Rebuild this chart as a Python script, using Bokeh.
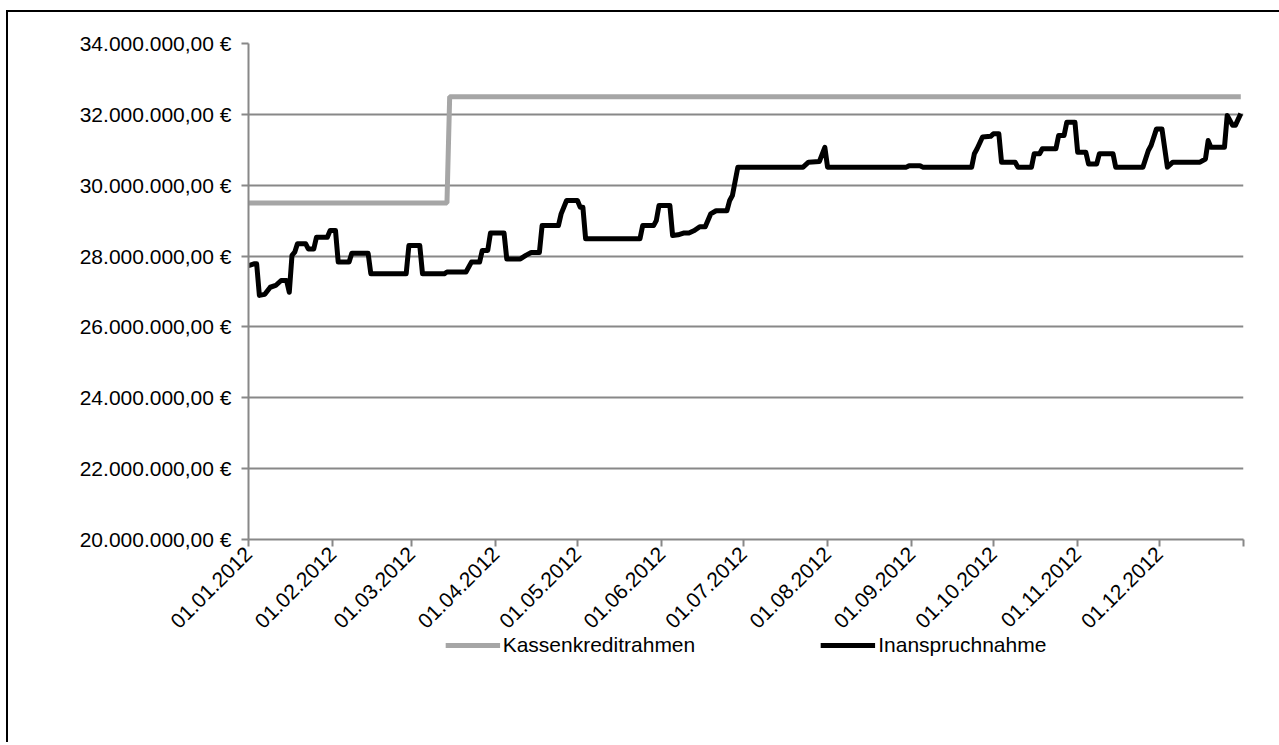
import numpy as np
from bokeh.plotting import figure
from bokeh.layouts import column
from bokeh.models import ColumnDataSource, FixedTicker, Legend, LegendItem, Range1d
from bokeh.embed import file_html
from bokeh.resources import INLINE

# ---- data (day offset from 01.01.2012, value in EUR) ----
rahmen_days = [0, 73, 74, 365]
rahmen_values = [29500000, 29500000, 32500000, 32500000]

use_days = [0, 2, 3, 4, 6, 8, 10, 12, 14, 15, 16, 17, 18, 21, 22, 24, 25, 29, 30, 32,
            33, 37, 38, 44, 45, 58, 59, 63, 64, 72, 73, 80, 82, 85, 86, 88, 89, 94, 95, 100,
            102, 104, 107, 108, 114, 115, 117, 121, 122, 123, 124, 144, 145, 149, 150, 151, 155, 156, 158, 160,
            162, 164, 166, 168, 170, 172, 176, 177, 178, 180, 204, 206, 210, 212, 213, 242, 243, 247, 248, 266,
            267, 268, 270, 273, 274, 276, 277, 282, 283, 288, 289, 291, 292, 297, 298, 300, 301, 304, 305, 308,
            309, 312, 313, 318, 319, 329, 331, 332, 334, 336, 338, 340, 350, 352, 353, 354, 359, 360, 362, 363,
            365]
use_values = [27730000, 27780000, 27780000, 26890000, 26920000, 27120000, 27170000, 27310000, 27310000, 26980000,
              28020000, 28110000, 28350000, 28350000, 28200000, 28200000, 28530000, 28530000, 28720000, 28720000,
              27830000, 27830000, 28080000, 28080000, 27500000, 27500000, 28300000, 28300000, 27500000, 27500000,
              27550000, 27550000, 27830000, 27830000, 28160000, 28160000, 28650000, 28650000, 27920000, 27920000,
              28020000, 28100000, 28100000, 28860000, 28860000, 29190000, 29570000, 29570000, 29380000, 29380000,
              28490000, 28490000, 28860000, 28860000, 29000000, 29430000, 29430000, 28580000, 28600000, 28650000,
              28650000, 28720000, 28830000, 28830000, 29190000, 29280000, 29280000, 29570000, 29710000, 30510000,
              30510000, 30650000, 30670000, 31070000, 30510000, 30510000, 30550000, 30550000, 30510000, 30510000,
              30890000, 31030000, 31360000, 31380000, 31450000, 31450000, 30650000, 30650000, 30510000, 30510000,
              30890000, 30890000, 31030000, 31030000, 31400000, 31400000, 31780000, 31780000, 30930000, 30930000,
              30600000, 30600000, 30890000, 30890000, 30510000, 30510000, 30980000, 31120000, 31590000, 31590000,
              30510000, 30650000, 30650000, 30740000, 31260000, 31070000, 31070000, 31970000, 31690000, 31690000,
              32020000]

month_days = [0, 31, 60, 91, 121, 152, 182, 213, 244, 274, 305, 335, 366]
month_labels = ["01.01.2012", "01.02.2012", "01.03.2012", "01.04.2012", "01.05.2012", "01.06.2012",
                "01.07.2012", "01.08.2012", "01.09.2012", "01.10.2012", "01.11.2012", "01.12.2012", ""]

y_ticks = [20000000, 22000000, 24000000, 26000000, 28000000, 30000000, 32000000, 34000000]
y_labels = ["20.000.000,00 €", "22.000.000,00 €", "24.000.000,00 €", "26.000.000,00 €",
            "28.000.000,00 €", "30.000.000,00 €", "32.000.000,00 €", "34.000.000,00 €"]

series_names = ["Kassenkreditrahmen", "Inanspruchnahme"]
series_colors = ["#A6A6A6", "#000000"]

FONT = "Liberation Sans"
FS = "21px"
GRID = "#888888"
LW = 5

# ---- main chart ----
p = figure(width=1271, height=637, output_backend="svg", toolbar_location=None,
           x_range=Range1d(0, 366), y_range=Range1d(20000000, 34000000),
           min_border_left=240, min_border_right=36, min_border_top=31, min_border_bottom=110)
p.outline_line_color = None
p.background_fill_color = "white"
p.border_fill_color = "white"

src_r = ColumnDataSource(dict(x=rahmen_days, y=rahmen_values))
src_u = ColumnDataSource(dict(x=use_days, y=use_values))
p.line("x", "y", source=src_r, line_color=series_colors[0], line_width=LW)
p.line("x", "y", source=src_u, line_color=series_colors[1], line_width=LW, line_join="round")

p.xgrid.grid_line_color = None
p.ygrid.grid_line_color = GRID
p.ygrid.grid_line_width = 2
p.ygrid.ticker = FixedTicker(ticks=y_ticks)

p.yaxis.ticker = FixedTicker(ticks=y_ticks)
p.yaxis.major_label_overrides = {t: l for t, l in zip(y_ticks, y_labels)}
p.xaxis.ticker = FixedTicker(ticks=month_days)
p.xaxis.major_label_overrides = {t: l for t, l in zip(month_days, month_labels)}
p.xaxis.major_label_orientation = np.pi / 4

for ax in (p.xaxis[0], p.yaxis[0]):
    ax.axis_line_color = GRID
    ax.axis_line_width = 2
    ax.major_tick_line_color = GRID
    ax.major_tick_line_width = 2
    ax.major_tick_in = 0
    ax.major_tick_out = 7
    ax.minor_tick_line_color = None
    ax.major_label_text_font = FONT
    ax.major_label_text_font_size = FS
    ax.major_label_text_color = "black"
p.yaxis.major_label_standoff = 10
p.xaxis.major_label_standoff = 4

# ---- legend strip (transparent, overlapping the bottom of the chart slightly) ----
# the same series are drawn here outside the visible ranges, only their legend entries show
lf = figure(width=1271, height=112, output_backend="svg", toolbar_location=None,
            x_axis_location=None, y_axis_location=None,
            x_range=Range1d(-3, -2), y_range=Range1d(-3, -2),
            min_border_left=203, min_border_right=0, min_border_top=0, min_border_bottom=0)
lf.grid.visible = False
lf.outline_line_color = None
lf.background_fill_alpha = 0
lf.border_fill_alpha = 0
lr1 = lf.line("x", "y", source=src_r, line_color=series_colors[0], line_width=LW)
lr2 = lf.line("x", "y", source=src_u, line_color=series_colors[1], line_width=LW)
legend = Legend(items=[LegendItem(label=series_names[0], renderers=[lr1]),
                       LegendItem(label=series_names[1], renderers=[lr2])],
                orientation="horizontal", location="top_center",
                glyph_width=55, glyph_height=20, label_standoff=3, spacing=125,
                label_text_font=FONT, label_text_font_size=FS, label_text_color="black",
                border_line_color=None, background_fill_alpha=0,
                padding=0, margin=3)
lf.add_layout(legend, "center")
lf.styles = {"margin-top": "-19px"}

layout = column(p, lf, spacing=0)
layout.styles = {"border-left": "2px solid black", "border-top": "2px solid black",
                 "margin-left": "6px", "margin-top": "10px"}

open("out.html", "w").write(file_html(layout, INLINE))
